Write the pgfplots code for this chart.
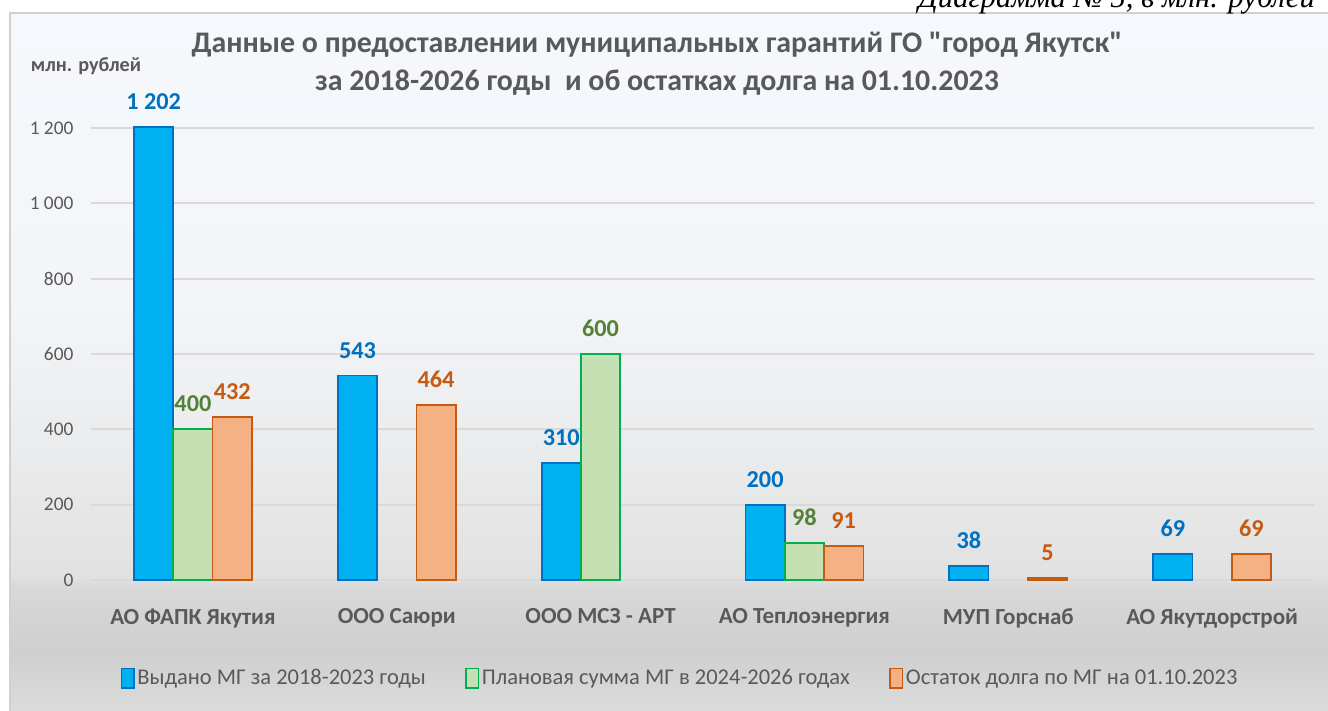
\documentclass[border=0pt]{standalone}
\usepackage{fontspec}
\setmainfont{Carlito}[Ligatures=TeXOff]
\newfontfamily\timesfont{Liberation Serif}
\usepackage{pgfplots}
\pgfplotsset{compat=1.18}
\definecolor{bluef}{HTML}{00B0F0}
\definecolor{blued}{HTML}{0070C0}
\definecolor{greenf}{HTML}{C5E0B3}
\definecolor{greend}{HTML}{00B050}
\definecolor{greenl}{HTML}{538135}
\definecolor{orangef}{HTML}{F4B183}
\definecolor{oranged}{HTML}{C55A11}
\definecolor{txt}{HTML}{595959}
\definecolor{gridc}{HTML}{D9D9D9}
\definecolor{framec}{HTML}{D0D0D0}
\definecolor{bga}{HTML}{DCDCDC}
\definecolor{bgb}{HTML}{CFCFCF}
\definecolor{bgc}{HTML}{D8D8D8}
\definecolor{bgd}{HTML}{E1E1E1}
\definecolor{bge}{HTML}{EAEBEC}
\definecolor{bgf}{HTML}{F3F5F8}
\definecolor{bgg}{HTML}{F5F8FC}
\pgfdeclareverticalshading{bgshade}{100bp}{color(0bp)=(bga); color(25bp)=(bga); color(29.4bp)=(bgb); color(34bp)=(bgc); color(34.7bp)=(bgd); color(43.6bp)=(bge); color(54.4bp)=(bgf); color(75bp)=(bgg); color(100bp)=(bgg)}
\begin{document}
\begin{tikzpicture}[x=0.2mm,y=0.2mm]
\useasboundingbox (0,0) rectangle (1328,711);
\clip (0,0) rectangle (1328,711);
\fill[white] (0,0) rectangle (1328,711);
\shade[shading=bgshade] (10,-2) rectangle (1330,698);
\draw[framec, line width=1pt] (10,-2) -- (10,698) -- (1330,698);
\node[anchor=base west, font=\timesfont\itshape\fontsize{17.5}{20}\selectfont, inner sep=0pt] at (918,703) {Диаграмма № 5, в млн. рублей};
\node[font=\bfseries\fontsize{17}{21.6}\selectfont, text=txt, align=center] at (657,647) {Данные о предоставлении муниципальных гарантий ГО "город Якутск"\\за 2018-2026 годы\ \ и об остатках долга на 01.10.2023};
\node[font=\bfseries\fontsize{11.5}{13}\selectfont, text=txt] at (86,645) {млн. рублей};
\begin{axis}[
  at={(18.2mm,26.2mm)}, anchor=south west,
  scale only axis, width=244.6mm, height=90.4mm,
  xmin=-0.5, xmax=5.5, ymin=0, ymax=1200,
  clip=false,
  ybar=0pt, bar width=7.86mm,
  axis line style={draw=none},
  major tick length=0pt,
  ymajorgrids, major grid style={draw=gridc, line width=1pt},
  ytick={0,200,...,1200},
  xtick={0,...,5},
  xticklabels={АО ФАПК Якутия, ООО Саюри, ООО МСЗ - АРТ, АО Теплоэнергия, МУП Горснаб, АО Якутдорстрой},
  xticklabel style={font=\bfseries\fontsize{13.1}{16}\selectfont, text=txt, yshift=-12.8pt},
  yticklabel style={font=\fontsize{11}{13}\selectfont, text=txt, xshift=-6.5pt},
  /pgf/number format/assume math mode=true,
  /pgf/number format/1000 sep={\ },
  nodes near coords,
  every node near coord/.append style={font=\bfseries\fontsize{13.8}{16}\selectfont, yshift=6pt},
  legend columns=3,
  legend style={at={(0.482,-0.217)}, anchor=center, draw=none, fill=none, font=\fontsize{12.8}{15}\selectfont, text=txt, /tikz/every even column/.append style={column sep=21pt}, nodes={inner sep=1.5pt}},
  legend image code/.code={\draw[#1, line width=0.9pt] (0pt,-5.5pt) rectangle (7pt,5.5pt);},
]
\addplot[fill=bluef, draw=blued, line width=1pt, every node near coord/.append style={text=blued}]
  coordinates {(0,1202) (1,543) (2,310) (3,200) (4,38) (5,69)};
\addlegendentry{Выдано МГ за 2018-2023 годы}
\addplot[fill=greenf, draw=greend, line width=1pt, every node near coord/.append style={text=greenl}]
  coordinates {(0,400) (2,600) (3,98)};
\addlegendentry{Плановая сумма МГ в 2024-2026 годах}
\addplot[fill=orangef, draw=oranged, line width=1pt, every node near coord/.append style={text=oranged}]
  coordinates {(0,432) (1,464) (3,91) (4,5) (5,69)};
\addlegendentry{Остаток долга по МГ на 01.10.2023}
\end{axis}
\end{tikzpicture}
\end{document}
